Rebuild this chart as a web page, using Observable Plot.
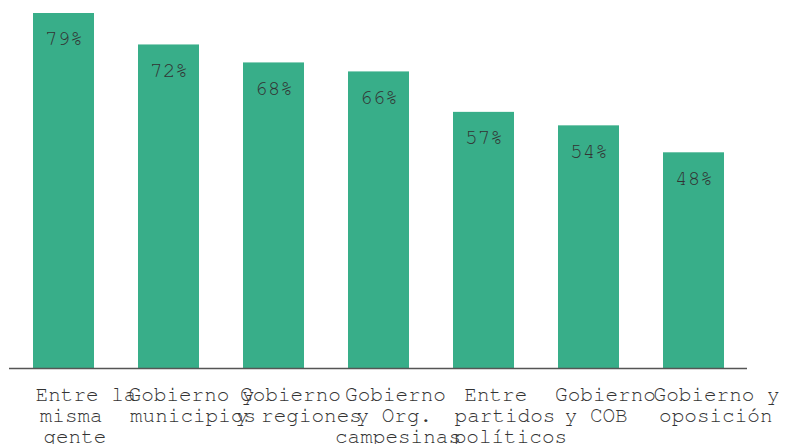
<!DOCTYPE html>
<html>
<head>
<meta charset="utf-8">
<script src="https://cdn.jsdelivr.net/npm/d3@7"></script>
<script src="https://cdn.jsdelivr.net/npm/@observablehq/plot@0.6"></script>
<style>
  html, body { margin: 0; padding: 0; background: #fff; }
  #chart svg { display: block; }
</style>
</head>
<body>
<div id="chart"></div>
<script>
const categories = [
  "Entre la\nmisma\ngente",
  "Gobierno y\nmunicipios",
  "Gobierno\ny regiones",
  "Gobierno\ny Org.\ncampesinas",
  "Entre\npartidos\npolíticos",
  "Gobierno\ny COB",
  "Gobierno y\noposición"
];
const values = [79, 72, 68, 66, 57, 54, 48];
const labels = ["79%", "72%", "68%", "66%", "57%", "54%", "48%"];

const data = categories.map((c, i) => ({cat: c, value: values[i], label: labels[i]}));
const font = "'Nimbus Mono PS', 'Nimbus Mono L', FreeMono, 'Courier New', Courier, 'Liberation Mono', monospace";

const chart = Plot.plot({
  width: 785,
  height: 444,
  marginTop: 13,
  marginBottom: 76,
  marginLeft: 9,
  marginRight: 38,
  style: {fontFamily: font, background: "#fff"},
  x: {domain: categories, paddingInner: 0.42, paddingOuter: 0.21, label: null},
  y: {domain: [0, 79], axis: null},
  marks: [
    Plot.barY(data, {x: "cat", y: "value", fill: "#38ae89"}),
    Plot.ruleY([0], {stroke: "#555", strokeWidth: 1.5}),
    Plot.text(data, {x: "cat", y: "value", text: "label", dy: 25, fill: "#333", fontSize: 21, fontFamily: font}),
    Plot.axisX({tickSize: 0, tickPadding: 18, fontSize: 21, lineHeight: 1, fill: "#333", fontFamily: font, label: null, textAnchor: "middle", lineAnchor: "top"})
  ]
});
document.getElementById("chart").appendChild(chart);

// The reference centres each label line using a proportional-font width estimate,
// while drawing it in a wider monospace face; reproduce that placement.
const ctx = document.createElement("canvas").getContext("2d");
ctx.font = "16.5px 'Liberation Sans', Arial, sans-serif";
chart.querySelectorAll('g[aria-label="x-axis tick label"] text').forEach(t => {
  t.setAttribute("text-anchor", "start");
  t.querySelectorAll("tspan").forEach(s => {
    const w = ctx.measureText(s.textContent).width;
    s.setAttribute("x", (-w / 2).toFixed(1));
  });
});
</script>
</body>
</html>
